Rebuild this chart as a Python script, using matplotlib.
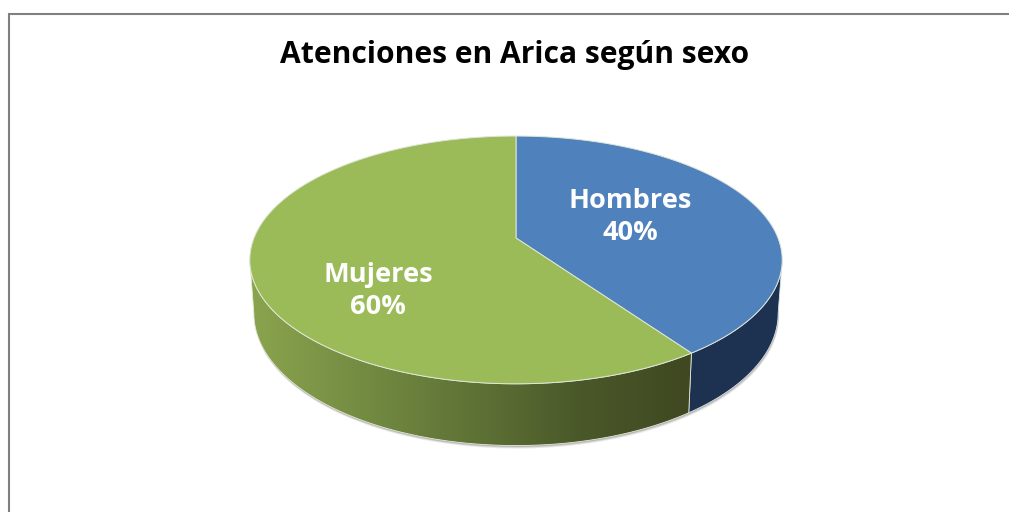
import numpy as np
import matplotlib.pyplot as plt
from matplotlib.colors import LinearSegmentedColormap
from matplotlib.patches import Polygon

# datos
categorias = ['Hombres', 'Mujeres']
valores = [40.3, 59.7]
titulo = 'Atenciones en Arica según sexo'

colores = ['#4f81bd', '#9bbb59']
pared_azul = '#1c3250'
pared_verde = ['#8ba44e', '#748c42', '#5f7336', '#4a5829', '#3f4821']

plt.rcParams['font.family'] = ['Open Sans', 'DejaVu Sans']

fig = plt.figure(figsize=(10.09, 5.12), dpi=100)
ax = fig.add_axes([0, 0, 1, 1])


# proyeccion del circulo con perspectiva, en pixeles
def proyectar(ang, cx=516, cy=238, bx=262, a=120, k=0.177):
    X, Y = np.sin(ang), np.cos(ang)
    d = 1 + k * Y
    return np.column_stack([cx + bx * X / d, cy - a * Y / d])


def borde(a1, a2, n=200, **kw):
    return proyectar(np.linspace(a1, a2, n), **kw)


base = dict(cx=516, cy=290, bx=258, a=128, k=0.177)

# angulos de cada sector, empezando arriba y en sentido horario
cortes = np.cumsum([0] + valores) / sum(valores) * 2 * np.pi
a_izq = np.pi * 1.5 - 0.18
a_der = np.pi * 0.5 + 0.18

# sombra debajo de la base
sombra = borde(0, 2 * np.pi, 400, **base)
for d, al in zip([3, 2, 1], [0.15, 0.25, 0.35]):
    ax.add_patch(Polygon(sombra + [d * 0.3, d], closed=True, fc='#707070', ec='none', alpha=al, zorder=1))

# paredes laterales
muro_a = np.vstack([borde(a_der, cortes[1]), borde(cortes[1], a_der, **base)])
ax.add_patch(Polygon(muro_a, closed=True, fc=pared_azul, ec='#dfe3e8', lw=0.6, zorder=2))

muro_v = np.vstack([borde(cortes[1], a_izq), borde(a_izq, cortes[1], **base)])
parche_v = Polygon(muro_v, closed=True, fc='none', ec='#e8ead8', lw=0.6, zorder=3)
ax.add_patch(parche_v)
cmap = LinearSegmentedColormap.from_list('pared', pared_verde)
im = ax.imshow(np.linspace(0, 1, 256).reshape(1, -1), cmap=cmap, extent=(250, 692, 460, 240),
               aspect='auto', zorder=2.5)
im.set_clip_path(parche_v)

# tapa
for i in range(len(valores)):
    pts = np.vstack([[[516, 238]], borde(cortes[i], cortes[i + 1])])
    ax.add_patch(Polygon(pts, closed=True, fc=colores[i], ec='#dfe6d8', lw=0.7, zorder=4))

# etiquetas
pos_etq = [(630, 217), (378, 291)]
for i in range(len(valores)):
    ax.text(pos_etq[i][0], pos_etq[i][1], f'{categorias[i]}\n{round(valores[i])}%', color='white',
            fontsize=19.6, fontweight='bold', ha='center', va='center', linespacing=1.27, zorder=5)

ax.text(515, 55, titulo, color='black', fontsize=21.6, fontweight='bold', ha='center', va='center')

# marco del grafico, cortado por el borde de la imagen
ax.plot([9, 9, 1012], [515, 13.5, 13.5], color='#808080', lw=1.5, solid_joinstyle='miter', zorder=6)

ax.set_xlim(0, 1009)
ax.set_ylim(512, 0)
ax.axis('off')
fig.savefig('out.png', dpi=100)
